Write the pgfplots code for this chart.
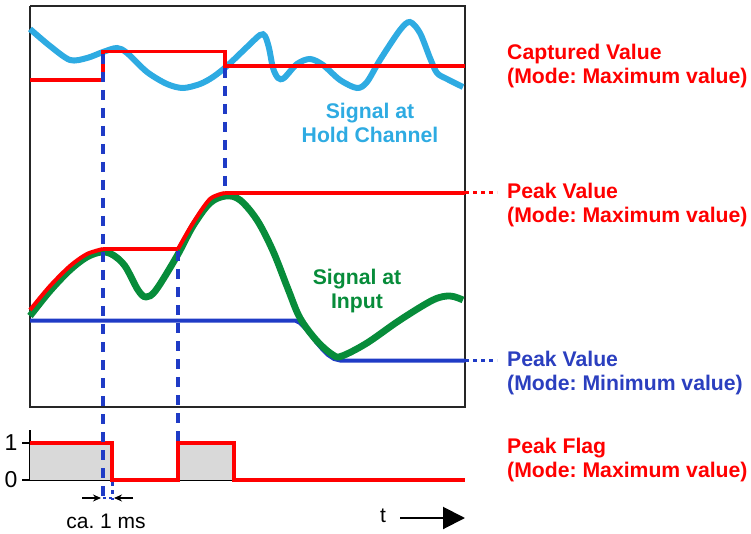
\documentclass[border=0pt]{standalone}
\usepackage{pgfplots}
\pgfplotsset{compat=1.18}
\usepackage{fontspec}
\setmainfont{Liberation Sans}
\usetikzlibrary{arrows.meta}
\definecolor{hold}{HTML}{2EABE2}
\definecolor{inp}{HTML}{078C3A}
\definecolor{minb}{HTML}{1F3BC6}
\definecolor{lblb}{HTML}{2B3FBF}
\definecolor{flagfill}{HTML}{D9D9D9}
\newcommand{\lbl}{\fontsize{21.2}{24}\selectfont\bfseries}
\frenchspacing
\begin{document}
\frenchspacing
\begin{tikzpicture}
% ---------- flag panel ----------
\begin{axis}[
  at={(30pt,54pt)}, anchor=south west,
  width=435pt, height=50pt, scale only axis,
  xmin=30, xmax=465, ymin=0, ymax=1.351,
  axis x line=bottom, axis y line=left,
  axis line style={-, line width=1.3pt, black},
  xtick=\empty, ytick={0,1},
  tick align=outside, major tick length=8pt,
  tick style={black, line width=1.3pt},
  /pgf/number format/assume math mode=true,
  yticklabel style={font=\fontsize{23}{26}\selectfont, xshift=-1pt},
  clip=false]
\addplot[fill=flagfill, draw=none] coordinates {(30,0)(30,1)(112,1)(112,0)} \closedcycle;
\addplot[fill=flagfill, draw=none] coordinates {(178,0)(178,1)(234,1)(234,0)} \closedcycle;
\addplot[red, line width=4pt] coordinates {(30,1)(112,1)(112,0)(178,0)(178,1)(234,1)(234,0)(465,0)};
\end{axis}
% ---------- main panel (pixel coordinates) ----------
\begin{axis}[
  at={(0pt,0pt)}, anchor=south west,
  width=751pt, height=534pt, scale only axis,
  xmin=0, xmax=751, ymin=0, ymax=534, y dir=reverse,
  hide axis, clip=false]
\addplot[draw=none] coordinates {(0,0)(751,534)};
% frame
\addplot[black!85, line width=1.5pt] coordinates {(30,6)(465,6)(465,407)(30,407)(30,6)};
% signal at hold channel
\addplot[hold, line width=6pt, smooth, tension=0.5] coordinates {
 (30,29)(50,46)(70,60)(87,58)(103,52)(117,48)(127,53)(147,72)(167,84)(183,88)
 (200,84)(213,77)(227,66)(247,47)(260,35)(265,36)(269,48)(273,68)(278,78)(284,78)
 (297,64)(310,59)(323,65)(340,80)(357,88)(367,82)(380,60)(400,30)(410,22)(420,33)
 (430,58)(437,73)(447,79)(463,87)};
% captured value
\addplot[red, line width=3.8pt] coordinates {(30,80)(103,80)(103,51.5)(225,51.5)(225,66)(465,66)};
% peak value min
\addplot[minb, line width=4pt, line join=round] coordinates {(30,320.5)(295,320.5)(300,323)(305,328)(310,334)(316,342)(322,349)(328,355)(334,359)(340,360.5)(465,360.5)};
\addplot[minb, line width=3pt, dash pattern=on 4pt off 4pt] coordinates {(465,360.5)(497,360.5)};
% signal at input
\addplot[inp, line width=6.8pt, smooth, tension=0.55] coordinates {
 (30,316)(50,291)(70,270)(87,257)(102,252)(113,255)(125,266)(138,290)(146,297)
 (156,290)(177,256)(193,226)(210,203)(226,196)(240,200)(257,220)(273,251)(288,289)
 (300,318)(317,341)(333,355)(342,356)(367,343)(400,320)(433,300)(450,296)(463,300)};
% peak value max
\addplot[red, line width=4pt, smooth, tension=0.5] coordinates {(30,310)(50,286)(70,266)(87,254)(103,249)};
\addplot[red, line width=4pt] coordinates {(103,249)(178,249)};
\addplot[red, line width=4pt, smooth, tension=0.5] coordinates {(178,249)(193,223)(210,199)(225,193)};
\addplot[red, line width=4pt] coordinates {(225,193)(465,193)};
\addplot[red, line width=3pt, dash pattern=on 4pt off 4pt] coordinates {(465,193)(497,193)};
% dashed guides
\addplot[minb, line width=3.5pt, dash pattern=on 10pt off 8pt] coordinates {(103,54)(103,500)};
\addplot[minb, line width=3.5pt, dash pattern=on 10pt off 8pt] coordinates {(225,68)(225,193)};
\addplot[minb, line width=3.5pt, dash pattern=on 10pt off 8pt] coordinates {(178,251)(178,443)};
\addplot[minb, line width=3pt, dash pattern=on 4pt off 4pt] coordinates {(112,482)(112,500)};
\addplot[minb, line width=2.5pt, dash pattern=on 3pt off 3pt] coordinates {(103,498)(112,498)};
% ca. 1 ms arrows
\addplot[black, line width=1.2pt, -{Stealth[length=8pt,width=7pt]}] coordinates {(82,498)(101,498)};
\addplot[black, line width=1.2pt, -{Stealth[length=8pt,width=7pt]}] coordinates {(133,498)(114,498)};
% t arrow
\addplot[black, line width=2pt, -{Triangle[length=22pt,width=22pt]}] coordinates {(400,518)(465,518)};
% texts
\node[font=\fontsize{21}{24}\selectfont] at (axis cs:106,521) {ca. 1 ms};
\node[font=\fontsize{21}{24}\selectfont] at (axis cs:383,516) {t};
\node[text=hold, align=center, font=\lbl] at (axis cs:370,123) {Signal at\\Hold Channel};
\node[text=inp, align=center, font=\lbl] at (axis cs:357,291) {Signal at\\Input};
\node[text=red, align=left, anchor=west, font=\lbl, inner sep=0pt] at (axis cs:507,66.5) {Captured Value\\(Mode: Maximum value)};
\node[text=red, align=left, anchor=west, font=\lbl, inner sep=0pt] at (axis cs:507,205) {Peak Value\\(Mode: Maximum value)};
\node[text=lblb, align=left, anchor=west, font=\lbl, inner sep=0pt] at (axis cs:507,373) {Peak Value\\(Mode: Minimum value)};
\node[text=red, align=left, anchor=west, font=\lbl, inner sep=0pt] at (axis cs:507,460) {Peak Flag\\(Mode: Maximum value)};
\end{axis}
\end{tikzpicture}
\end{document}
